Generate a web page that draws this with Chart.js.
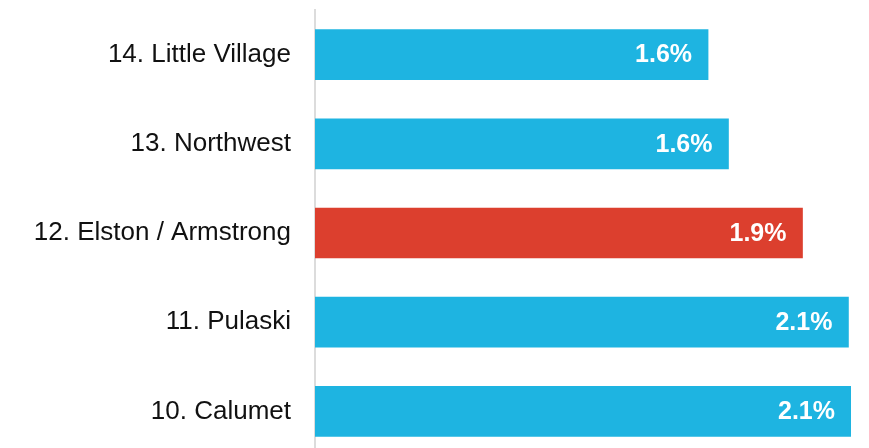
<!DOCTYPE html>
<html>
<head>
<meta charset="utf-8">
<script src="https://cdn.jsdelivr.net/npm/chart.js@4"></script>
<style>
  html, body { margin: 0; padding: 0; background: #fff; overflow: hidden; }
  #wrap { width: 869px; height: 456px; }
</style>
</head>
<body>
<div id="wrap"><canvas id="barChart"></canvas></div>
<script>
// Data
const districts = ['14. Little Village', '13. Northwest', '12. Elston / Armstrong', '11. Pulaski', '10. Calumet'];
const shares = [1.54, 1.62, 1.91, 2.09, 2.10];
const shareLabels = ['1.6%', '1.6%', '1.9%', '2.1%', '2.1%'];
const highlight = '12. Elston / Armstrong';

const BLUE = '#1eb4e1';
const RED = '#dc3f2e';
const FONT = 'Arial, "Liberation Sans", Helvetica, sans-serif';

// white value text near the end of each bar
const valueLabels = {
    id: 'valueLabels',
    afterDatasetsDraw(chart) {
        const ctx = chart.ctx;
        const meta = chart.getDatasetMeta(0);
        ctx.save();
        ctx.font = 'bold 25px ' + FONT;
        ctx.fillStyle = '#fff';
        ctx.textAlign = 'right';
        ctx.textBaseline = 'middle';
        meta.data.forEach((bar, i) => {
            const x = Math.min(bar.x - 16, chart.chartArea.right - 1);
            ctx.fillText(shareLabels[i], x, bar.y + 1);
        });
        ctx.restore();
    }
};

new Chart(document.getElementById('barChart'), {
    type: 'bar',
    data: {
        labels: districts,
        datasets: [{
            data: shares,
            backgroundColor: districts.map(d => d === highlight ? RED : BLUE),
            barThickness: 50,
            borderWidth: 0
        }]
    },
    options: {
        indexAxis: 'y',
        responsive: true,
        maintainAspectRatio: false,
        animation: false,
        layout: { padding: { top: 10, right: 18, left: 0, bottom: 0 } },
        plugins: { legend: { display: false }, tooltip: { enabled: false } },
        scales: {
            x: {
                min: 0,
                max: 2.1,
                display: false
            },
            y: {
                afterFit: s => {
                    s.width = 315;
                    s.paddingTop = 0;
                    s.paddingBottom = 0;
                },
                grid: { display: false, drawTicks: false },
                border: { display: true, color: '#dcdcdc', width: 2 },
                ticks: {
                    padding: 24,
                    color: '#111',
                    font: { family: FONT, size: 26 }
                }
            }
        }
    },
    plugins: [valueLabels]
});
</script>
</body>
</html>
